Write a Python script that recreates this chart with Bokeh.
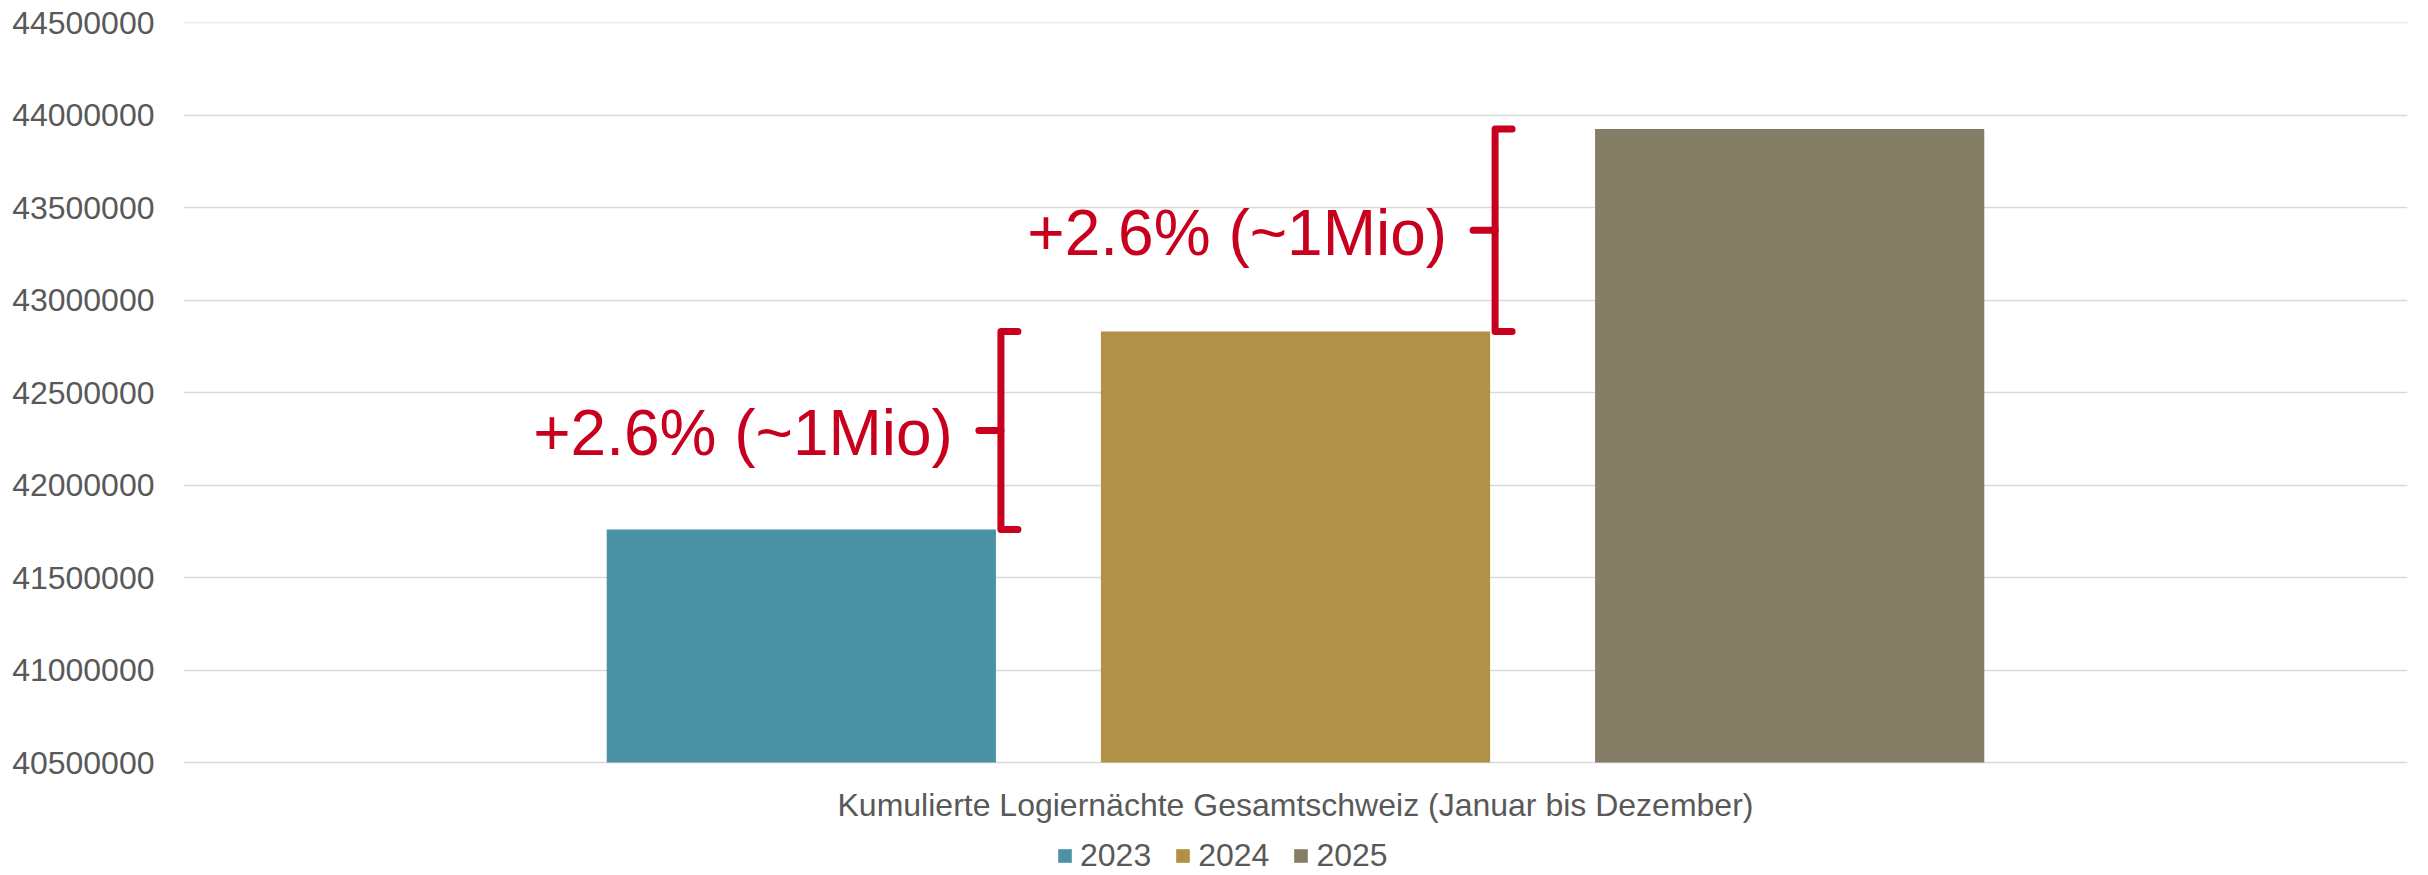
from bokeh.plotting import figure
from bokeh.models import (Range1d, FixedTicker, NumeralTickFormatter, Label, Legend, LegendItem)
from bokeh.embed import file_html
from bokeh.resources import INLINE

# ---- data ----
category = ["Kumulierte Logiernächte Gesamtschweiz (Januar bis Dezember)"]
years = ["2023", "2024", "2025"]
nights = [41760000, 42830000, 43925000]
colors = ["#4A92A4", "#B19047", "#837E65"]
y_ticks = [40500000, 41000000, 41500000, 42000000, 42500000,
           43000000, 43500000, 44000000, 44500000]
changes = ["+2.6% (~1Mio)", "+2.6% (~1Mio)"]

FONT = "Liberation Sans"
GRAY = "#595959"
RED = "#C8001E"

# ---- layout (pixels) ----
W, H = 2428, 875
BL, BR, BT = 183, 21, 22
AXIS_BOTTOM_PX = 762          # where the value axis starts (y_ticks[0])
frame_w = W - BL - BR
px = 1.0 / frame_w
y_min, y_max = y_ticks[0], y_ticks[-1]
units_per_px = (y_max - y_min) / (AXIS_BOTTOM_PX - BT)
y_low = y_min - (H - AXIS_BOTTOM_PX) * units_per_px

p = figure(width=W, height=H, x_range=Range1d(0, 1), y_range=Range1d(y_low, y_max + 1),
           output_backend="svg", toolbar_location=None, x_axis_location=None,
           min_border_left=BL, min_border_right=BR, min_border_top=BT, min_border_bottom=0)
p.outline_line_color = None
p.background_fill_color = "white"
p.border_fill_color = "white"

center = 0.5
offset = 0.2222
bw = 0.175
xs = [center + (i - 1) * offset for i in range(len(years))]

items = []
for x, v, c, yr in zip(xs, nights, colors, years):
    r = p.vbar(x=[x], top=[v], bottom=y_min, width=bw, fill_color=c, line_color=None)
    items.append(LegendItem(label=yr, renderers=[r]))

# brackets + annotations
hook = 17 * px
tick = 22 * px
for i, txt in enumerate(changes):
    lower, upper = nights[i], nights[i + 1]
    xb = xs[i] + bw / 2 + 5 * px
    ymid = (lower + upper) / 2
    p.line(x=[xb + hook, xb, xb, xb + hook], y=[upper, upper, lower, lower],
           line_width=7, line_color=RED, line_join="round", line_cap="round")
    p.line(x=[xb - tick, xb], y=[ymid, ymid], line_width=7, line_color=RED, line_cap="round")
    p.add_layout(Label(x=xb, y=ymid, x_offset=-48, y_offset=-3, text=txt, text_align="right",
                       text_baseline="middle", text_font_size="64px", text_color=RED,
                       text_font=FONT))

# category label under the bars
p.add_layout(Label(x=center, y=y_min, y_offset=-42, text=category[0], text_align="center",
                   text_baseline="middle", text_font_size="32px", text_color=GRAY,
                   text_font=FONT))

# value axis
p.yaxis.ticker = FixedTicker(ticks=y_ticks)
p.yaxis.formatter = NumeralTickFormatter(format="0")
p.yaxis.axis_line_color = None
p.yaxis.major_tick_line_color = None
p.yaxis.minor_tick_line_color = None
p.yaxis.major_tick_out = 0
p.yaxis.major_label_standoff = 29
p.yaxis.major_label_text_font_size = "32px"
p.yaxis.major_label_text_font = FONT
p.yaxis.major_label_text_color = GRAY

p.xgrid.visible = False
p.ygrid.grid_line_color = "#D9D9D9"
p.ygrid.grid_line_width = 1.5

# legend
lg = Legend(items=items, location=(873, 1), orientation="horizontal",
            glyph_width=17, glyph_height=17, label_standoff=7, spacing=23,
            padding=0, margin=0, border_line_color=None, background_fill_alpha=0,
            label_text_font_size="32px", label_text_font=FONT, label_text_color=GRAY)
p.add_layout(lg, "center")

open("out.html", "w").write(file_html(p, INLINE))
